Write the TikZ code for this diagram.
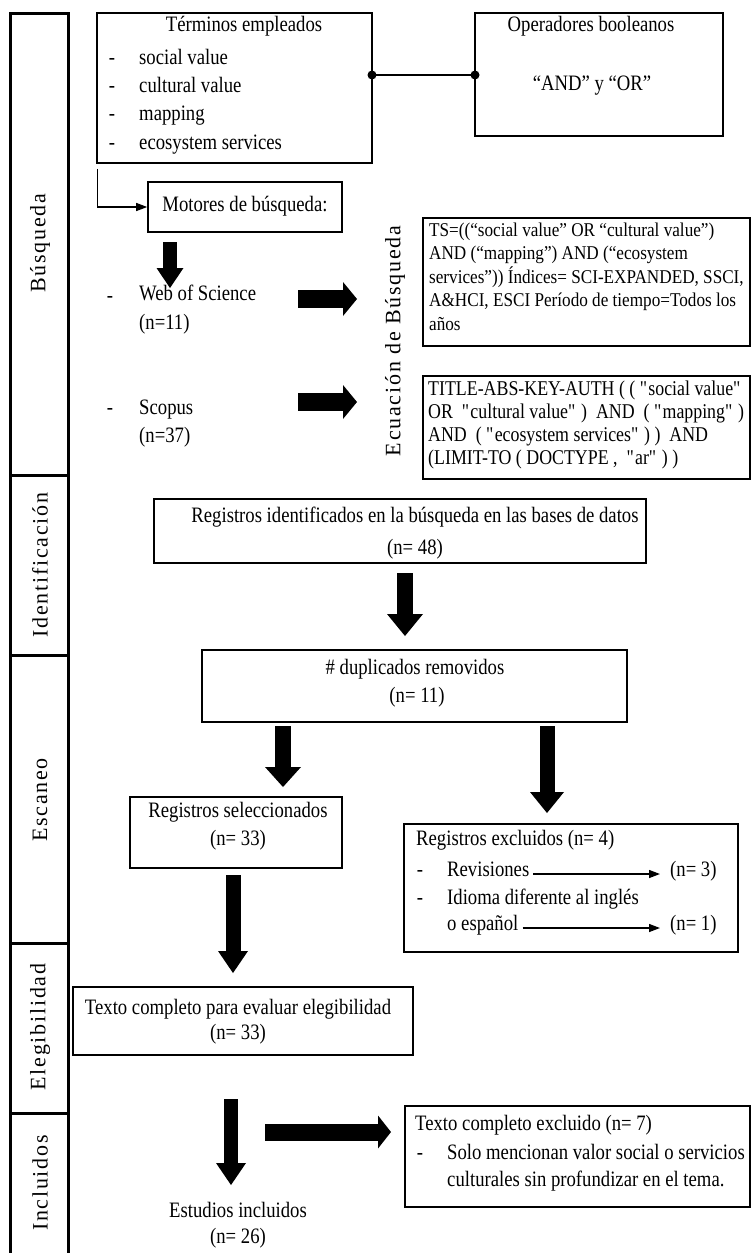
\documentclass[tikz,border=0pt]{standalone}
\usepackage{fontspec}
\setmainfont[FakeStretch=0.85]{Liberation Serif}
\newfontfamily\lanefont[LetterSpace=8]{Liberation Serif}
\newfontfamily\qfont[FakeStretch=0.88]{Liberation Serif}
\usetikzlibrary{arrows.meta}
\tikzset{
  box/.style={draw, line width=1.6pt, inner sep=0pt, anchor=center},
  txt/.style={inner sep=0pt, font=\fontsize{22}{26}\selectfont},
  qtxt/.style={inner sep=0pt, anchor=mid west, font=\qfont\fontsize{19.5}{23}\selectfont},
  stxt/.style={inner sep=0pt, anchor=mid west, font=\fontsize{21}{24}\selectfont},
  lane/.style={inner sep=0pt, rotate=90, font=\lanefont\fontsize{22}{26}\selectfont},
  lanecol/.style={line width=3pt},
  blk/.style n args={3}{line width=#1, -{Triangle[width=#2,length=#3,line width=0pt]}},
  thinarr/.style={line width=1.3pt, -{Triangle[width=8pt,length=11pt]}},
  conn/.style={line width=1.5pt},
}
\begin{document}
\begin{tikzpicture}[x=1pt,y=-1pt]
\useasboundingbox (0,0) rectangle (752,1253);
% lane column
\draw[lanecol] (10,1253) -- (10,13) -- (68,13) -- (68,1253);
\foreach \yy in {475,655,943,1113} \draw[lanecol] (10,\yy) -- (68,\yy);
\node[lane] (lb) at (40,243) {Búsqueda};
\node[lane] (li) at (40,565) {Identificación};
\node[lane] (ls) at (40,800) {Escaneo};
\node[lane] (le) at (40,1027) {Elegibilidad};
\node[lane] (ln) at (40,1183) {Incluidos};

% boxes
\node[box, minimum width=275pt, minimum height=150pt] (term) at (234.5,88) {};
\node[box, minimum width=248pt, minimum height=123pt] (oper) at (599,74.5) {};
\node[box, minimum width=194pt, minimum height=50pt] (mot) at (245,207) {};
\node[box, minimum width=327pt, minimum height=128pt] (q1) at (586.5,282) {};
\node[box, minimum width=327pt, minimum height=103pt] (q2) at (586.5,427.5) {};
\node[box, minimum width=492pt, minimum height=64pt] (ident) at (400,531) {};
\node[box, minimum width=425pt, minimum height=72pt] (dup) at (414.5,686) {};
\node[box, minimum width=212pt, minimum height=71pt] (sel) at (236,832.5) {};
\node[box, minimum width=334pt, minimum height=128pt] (excl) at (571,888) {};
\node[box, minimum width=340pt, minimum height=68pt] (full) at (243,1021) {};
\node[box, minimum width=345pt, minimum height=101pt] (fullex) at (577.5,1156.5) {};

% terms box text
\node[txt, anchor=mid] (t0) at (244,29) {Términos empleados};
\node[txt, anchor=mid] (d1) at (112,62) {-};
\node[txt, anchor=mid west] (t1) at (139,62) {social value};
\node[txt, anchor=mid] (d2) at (112,90) {-};
\node[txt, anchor=mid west] (t2) at (139,90) {cultural value};
\node[txt, anchor=mid] (d3) at (112,118) {-};
\node[txt, anchor=mid west] (t3) at (139,118) {mapping};
\node[txt, anchor=mid] (d4) at (112,147) {-};
\node[txt, anchor=mid west] (t4) at (139,147) {ecosystem services};

% operators
\node[txt, anchor=mid] (o0) at (591,29) {Operadores booleanos};
\node[txt, anchor=mid] (o1) at (592,88) {“AND” y “OR”};
\coordinate (c1) at (372,75);
\coordinate (c2) at (475,75);
\draw[conn] (c1) -- (c2);
\fill (c1) circle (4.5pt);
\fill (c2) circle (4.5pt);

% motores
\node[txt, anchor=mid] (m0) at (245,209) {Motores de búsqueda:};
\draw[thinarr] ([xshift=1pt,yshift=-5pt]term.south west) |- (mot.west);

\node[txt, anchor=mid] (wd) at (110,300) {-};
\node[txt, anchor=mid west] (wos) at (139,298) {Web of Science};
\node[txt, anchor=mid west] (wosn) at (139,327) {(n=11)};
\node[txt, anchor=mid] (sd) at (110,412) {-};
\node[txt, anchor=mid west] (sco) at (139,412) {Scopus};
\node[txt, anchor=mid west] (scon) at (139,440) {(n=37)};

\node[lane] (ecu) at (395,341) {Ecuación de Búsqueda};

% query 1
\node[qtxt] (q1a) at (429,234) {TS=((“social value” OR “cultural value”)};
\node[qtxt] (q1b) at (429,257.5) {AND (“mapping”) AND (“ecosystem};
\node[qtxt] (q1c) at (429,281) {services”)) Índices= SCI-EXPANDED, SSCI,};
\node[qtxt] (q1d) at (429,304.5) {A\&HCI, ESCI Período de tiempo=Todos los};
\node[qtxt] (q1e) at (429,328) {años};
% query 2
\node[stxt] (q2a) at (428,393) {TITLE-ABS-KEY-AUTH ( ( \textquotedbl social value\textquotedbl};
\node[stxt] (q2b) at (428,416) {OR\ \ \textquotedbl cultural value\textquotedbl\ )\ \ AND\ \ ( \textquotedbl mapping\textquotedbl\ )};
\node[stxt] (q2c) at (428,439) {AND\ \ ( \textquotedbl ecosystem services\textquotedbl\ ) )\ \ AND};
\node[stxt] (q2d) at (428,462) {(LIMIT-TO ( DOCTYPE ,\ \ \textquotedbl ar\textquotedbl\ ) )};

% identificados
\node[txt, anchor=mid] (i0) at (415,520) {Registros identificados en la búsqueda en las bases de datos};
\node[txt, anchor=mid] (i1) at (415,552) {(n= 48)};
% duplicados
\node[txt, anchor=mid] (u0) at (415,672) {\# duplicados removidos};
\node[txt, anchor=mid] (u1) at (417,700) {(n= 11)};
% seleccionados
\node[txt, anchor=mid] (s0) at (238,815) {Registros seleccionados};
\node[txt, anchor=mid] (s1) at (238,843) {(n= 33)};
% excluidos
\node[txt, anchor=mid west] (e0) at (416,843) {Registros excluidos (n= 4)};
\node[txt, anchor=mid] (ed1) at (420,874) {-};
\node[txt, anchor=mid west] (rev) at (447,874) {Revisiones};
\node[txt, anchor=mid west] (n3) at (670,874) {(n= 3)};
\node[txt, anchor=mid] (ed2) at (420,902) {-};
\node[txt, anchor=mid west] (idi) at (447,902) {Idioma diferente al inglés};
\node[txt, anchor=mid west] (esp) at (447,928) {o español};
\node[txt, anchor=mid west] (n1) at (670,928) {(n= 1)};
\draw[thinarr, shorten <=4pt, shorten >=10pt] (rev.mid east) -- (n3.mid west);
\draw[thinarr, shorten <=4pt, shorten >=10pt] (esp.mid east) -- (n1.mid west);
% full text
\node[txt, anchor=mid] (f0) at (238,1012) {Texto completo para evaluar elegibilidad};
\node[txt, anchor=mid] (f1) at (238,1037) {(n= 33)};
% full excluded
\node[txt, anchor=mid west] (x0) at (415,1128) {Texto completo excluido (n= 7)};
\node[txt, anchor=mid] (xd) at (420,1157) {-};
\node[txt, anchor=mid west] (x1) at (447,1157) {Solo mencionan valor social o servicios};
\node[txt, anchor=mid west] (x2) at (447,1184) {culturales sin profundizar en el tema.};
% included
\node[txt, anchor=mid] (inc0) at (238,1215) {Estudios incluidos};
\node[txt, anchor=mid] (inc1) at (238,1241) {(n= 26)};

% block arrows
\coordinate (a1s) at (170,242); \coordinate (a1e) at (170,288);
\draw[blk={14pt}{27pt}{20pt}] (a1s) -- (a1e);
\coordinate (a2s) at (298,299); \coordinate (a2e) at (357,299);
\draw[blk={18pt}{34pt}{14pt}] (a2s) -- (a2e);
\coordinate (a3s) at (298,402); \coordinate (a3e) at (357,402);
\draw[blk={18pt}{34pt}{14pt}] (a3s) -- (a3e);
\coordinate (a4s) at (405,573); \coordinate (a4e) at (405,636);
\draw[blk={16pt}{36pt}{22pt}] (a4s) -- (a4e);
\coordinate (a5s) at (283,726); \coordinate (a5e) at (283,787);
\draw[blk={16pt}{36pt}{20pt}] (a5s) -- (a5e);
\coordinate (a6s) at (547,726); \coordinate (a6e) at (547,813);
\draw[blk={15pt}{34pt}{21pt}] (a6s) -- (a6e);
\coordinate (a7s) at (233,875); \coordinate (a7e) at (233,973);
\draw[blk={15pt}{30pt}{22pt}] (a7s) -- (a7e);
\coordinate (a8s) at (231,1099); \coordinate (a8e) at (231,1185);
\draw[blk={14pt}{30pt}{22pt}] (a8s) -- (a8e);
\coordinate (a9s) at (265,1132); \coordinate (a9e) at (391,1132);
\draw[blk={17pt}{33pt}{13pt}] (a9s) -- (a9e);
\end{tikzpicture}
\end{document}
